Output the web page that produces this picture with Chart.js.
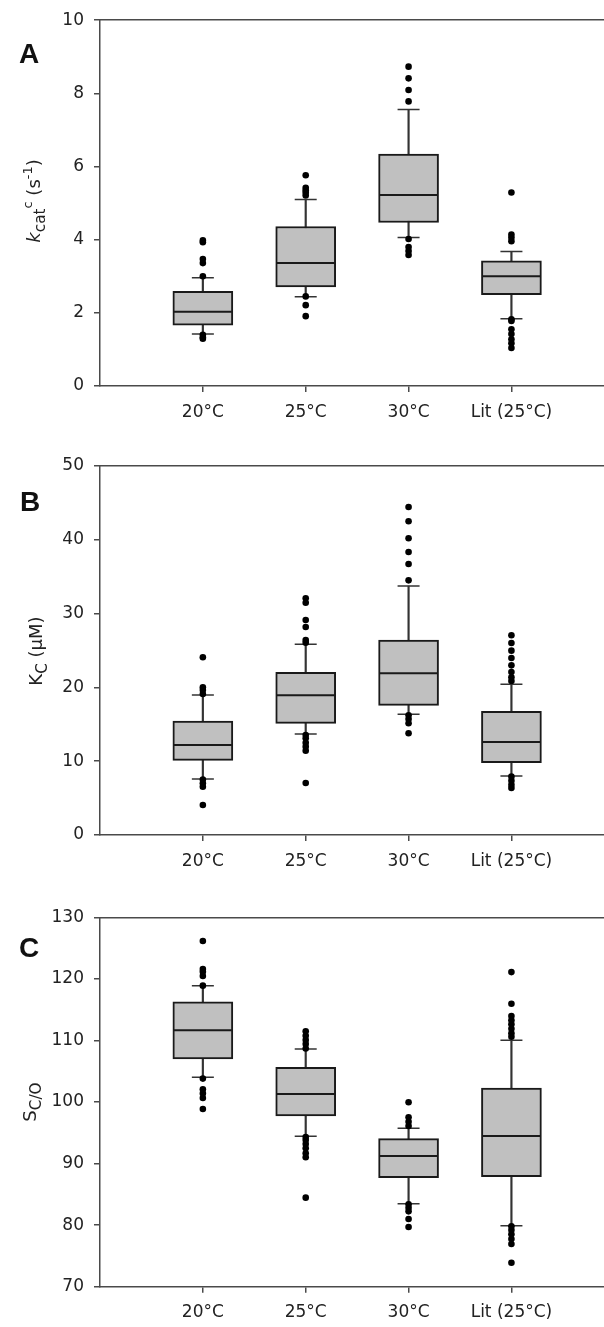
<!DOCTYPE html>
<html>
<head>
<meta charset="utf-8">
<script src="https://cdn.jsdelivr.net/npm/chart.js@4.4.1/dist/chart.umd.min.js"></script>
<style>
  html, body { margin: 0; padding: 0; background: #fff; }
  body { position: relative; width: 604px; height: 1327px; overflow: hidden; }
  canvas { position: absolute; left: 0; }
  .letter { position: absolute; font-family: "Liberation Sans", Arial, sans-serif; font-weight: bold; font-size: 28px; line-height: 28px; color: #111; }
  .yt { position: absolute; font-family: "DejaVu Sans", sans-serif; font-size: 18px; color: #222; white-space: nowrap; line-height: 22px;
        transform: translate(-50%, -50%) rotate(-90deg); }
  .yt sub { font-size: 0.85em; vertical-align: -0.3em; line-height: 0; }
  .yt sup { font-size: 0.72em; vertical-align: 0.6em; line-height: 0; }
</style>
</head>
<body>
<canvas id="cA" width="604" height="436" style="top:0px"></canvas>
<canvas id="cB" width="604" height="445" style="top:440px"></canvas>
<canvas id="cC" width="604" height="437" style="top:890px"></canvas>

<div class="letter" style="left:19px; top:40px">A</div>
<div class="letter" style="left:20px; top:488px">B</div>
<div class="letter" style="left:19px; top:934px">C</div>

<div class="yt" style="left:34px; top:201px"><i>k</i><sub>cat</sub><sup>c</sup> (s<sup>-1</sup>)</div>
<div class="yt" style="left:36px; top:651px">K<sub>C</sub> (µM)</div>
<div class="yt" style="left:30px; top:1102px">S<sub>C/O</sub></div>

<script>
// ---------- data ----------
const categories = ['20°C', '25°C', '30°C', 'Lit (25°C)'];

// Panel A: kcat (s-1)
const kcatQ1  = [1.66, 2.71, 4.47, 2.50];
const kcatMed = [2.03, 3.36, 5.22, 3.00];
const kcatQ3  = [2.59, 4.36, 6.34, 3.42];
const kcatLo  = [1.42, 2.44, 4.06, 1.84];
const kcatHi  = [2.96, 5.10, 7.56, 3.68];
const kcatOut = [
  [3.98, 3.93, 3.47, 3.36, 3.00, 1.40, 1.33, 1.29],
  [5.76, 5.42, 5.35, 5.29, 5.21, 2.45, 2.21, 1.91],
  [8.73, 8.41, 8.09, 7.78, 4.02, 3.80, 3.69, 3.58],
  [5.29, 4.14, 4.06, 3.96, 1.82, 1.78, 1.55, 1.42, 1.28, 1.17, 1.04]
];
const kcatTicks = { min: 0, max: 10, step: 2 };

// Panel B: Kc (uM)
const kcQ1  = [10.11, 15.12, 17.56, 9.79];
const kcMed = [12.19, 18.91, 21.89, 12.59];
const kcQ3  = [15.43, 22.03, 26.40, 16.75];
const kcLo  = [7.58, 13.67, 16.34, 7.99];
const kcHi  = [18.95, 25.82, 33.71, 20.40];
const kcOut = [
  [24.06, 20.00, 19.63, 19.09, 7.50, 7.00, 6.54, 4.06],
  [32.04, 31.45, 29.11, 28.16, 26.40, 26.04, 13.54, 13.09, 12.50, 11.96, 11.41, 7.04],
  [44.41, 42.47, 40.17, 38.32, 36.69, 34.48, 16.20, 15.70, 15.12, 13.77],
  [27.04, 26.00, 24.96, 23.96, 22.97, 22.07, 21.35, 20.85, 7.90, 7.35, 6.81, 6.36]
];
const kcTicks = { min: 0, max: 50, step: 10 };

// Panel C: Sc/o
const scoQ1  = [106.98, 97.72, 87.70, 87.87];
const scoMed = [111.64, 101.30, 91.23, 94.47];
const scoQ3  = [116.29, 105.63, 94.04, 102.27];
const scoLo  = [104.00, 94.43, 83.48, 79.91];
const scoHi  = [118.89, 108.60, 95.73, 110.02];
const scoOut = [
  [126.15, 121.60, 121.16, 120.46, 118.90, 103.80, 102.06, 101.40, 100.65, 98.86],
  [111.48, 110.77, 110.07, 109.42, 108.70, 94.30, 93.83, 93.18, 92.48, 91.67, 91.02, 84.46],
  [99.95, 97.51, 96.80, 96.10, 83.40, 82.83, 82.24, 81.00, 79.70],
  [121.10, 115.96, 113.96, 113.26, 112.61, 111.90, 111.16, 110.60, 79.80, 79.20, 78.50, 77.75, 76.93, 73.90]
];
const scoTicks = { min: 70, max: 130, step: 10 };

// ---------- drawing ----------
Chart.defaults.font.family = '"DejaVu Sans", sans-serif';
Chart.defaults.font.size = 17;
Chart.defaults.color = '#222';

const AXIS = '#4a4a4a';
const X_MAX = 4.9;

function datasets(q1, med, q3, lo, hi, out) {
  const pos = (i) => i + 1;
  return [
    { type: 'scatter', order: 0,
      data: out.flatMap((arr, i) => arr.map(v => ({ x: pos(i), y: v }))),
      pointStyle: 'circle', pointRadius: 3.3, pointBackgroundColor: '#000', pointBorderWidth: 0 },
    { type: 'scatter', order: 1,
      data: med.map((v, i) => ({ x: pos(i), y: v })),
      pointStyle: 'line', pointRadius: 29, pointBorderWidth: 2, pointBorderColor: '#1a1a1a' },
    { type: 'scatter', order: 2,
      data: lo.map((v, i) => ({ x: pos(i), y: v })).concat(hi.map((v, i) => ({ x: pos(i), y: v }))),
      pointStyle: 'line', pointRadius: 11, pointBorderWidth: 1.5, pointBorderColor: '#333' },
    { type: 'bar', order: 3, grouped: false,
      data: q1.map((v, i) => ({ x: pos(i), y: [v, q3[i]] })),
      barThickness: 60, backgroundColor: '#c0c0c0', borderColor: '#1a1a1a', borderWidth: 2, borderSkipped: false },
    { type: 'bar', order: 4, grouped: false,
      data: lo.map((v, i) => ({ x: pos(i), y: [v, hi[i]] })),
      barThickness: 1.5, backgroundColor: '#333', borderWidth: 0 }
  ];
}

function makeChart(id, sets, ticks, padTop, xHeight) {
  new Chart(document.getElementById(id), {
    type: 'bar',
    data: { datasets: sets },
    options: {
      responsive: false,
      animation: false,
      events: [],
      layout: { autoPadding: false, padding: { top: padTop, left: 0, right: 0, bottom: 0 } },
      plugins: { legend: { display: false }, tooltip: { enabled: false } },
      scales: {
        x: {
          type: 'linear', position: 'bottom', min: 0, max: X_MAX, offset: false,
          afterBuildTicks: (s) => { s.ticks = categories.map((c, i) => ({ value: i + 1 })); },
          afterFit: (s) => { s.height = xHeight; },
          ticks: { autoSkip: false, maxRotation: 0, padding: 10, color: '#222',
                   callback: (v) => categories[Math.round(v) - 1] },
          grid: { display: true, drawOnChartArea: false, drawTicks: true, tickLength: 6, color: AXIS, lineWidth: 1.5, offset: false },
          border: { display: true, color: AXIS, width: 1.5 }
        },
        xTop: {
          type: 'linear', position: 'top', min: 0, max: X_MAX, offset: false,
          afterFit: (s) => { s.height = 0; },
          ticks: { display: false },
          grid: { display: true, drawOnChartArea: false, drawTicks: false, color: AXIS, lineWidth: 1.5 },
          border: { display: true, color: AXIS, width: 1.5 }
        },
        y: {
          type: 'linear', position: 'left', min: ticks.min, max: ticks.max,
          afterFit: (s) => { s.width = 100; },
          ticks: { stepSize: ticks.step, padding: 10, color: '#222' },
          grid: { display: true, drawOnChartArea: false, drawTicks: true, tickLength: 6, color: AXIS, lineWidth: 1.5 },
          border: { display: true, color: AXIS, width: 1.5 }
        }
      }
    }
  });
}

makeChart('cA', datasets(kcatQ1, kcatMed, kcatQ3, kcatLo, kcatHi, kcatOut), kcatTicks, 15, 50);
makeChart('cB', datasets(kcQ1, kcMed, kcQ3, kcLo, kcHi, kcOut), kcTicks, 25.7, 50);
makeChart('cC', datasets(scoQ1, scoMed, scoQ3, scoLo, scoHi, scoOut), scoTicks, 27.3, 40.3);
</script>
</body>
</html>
